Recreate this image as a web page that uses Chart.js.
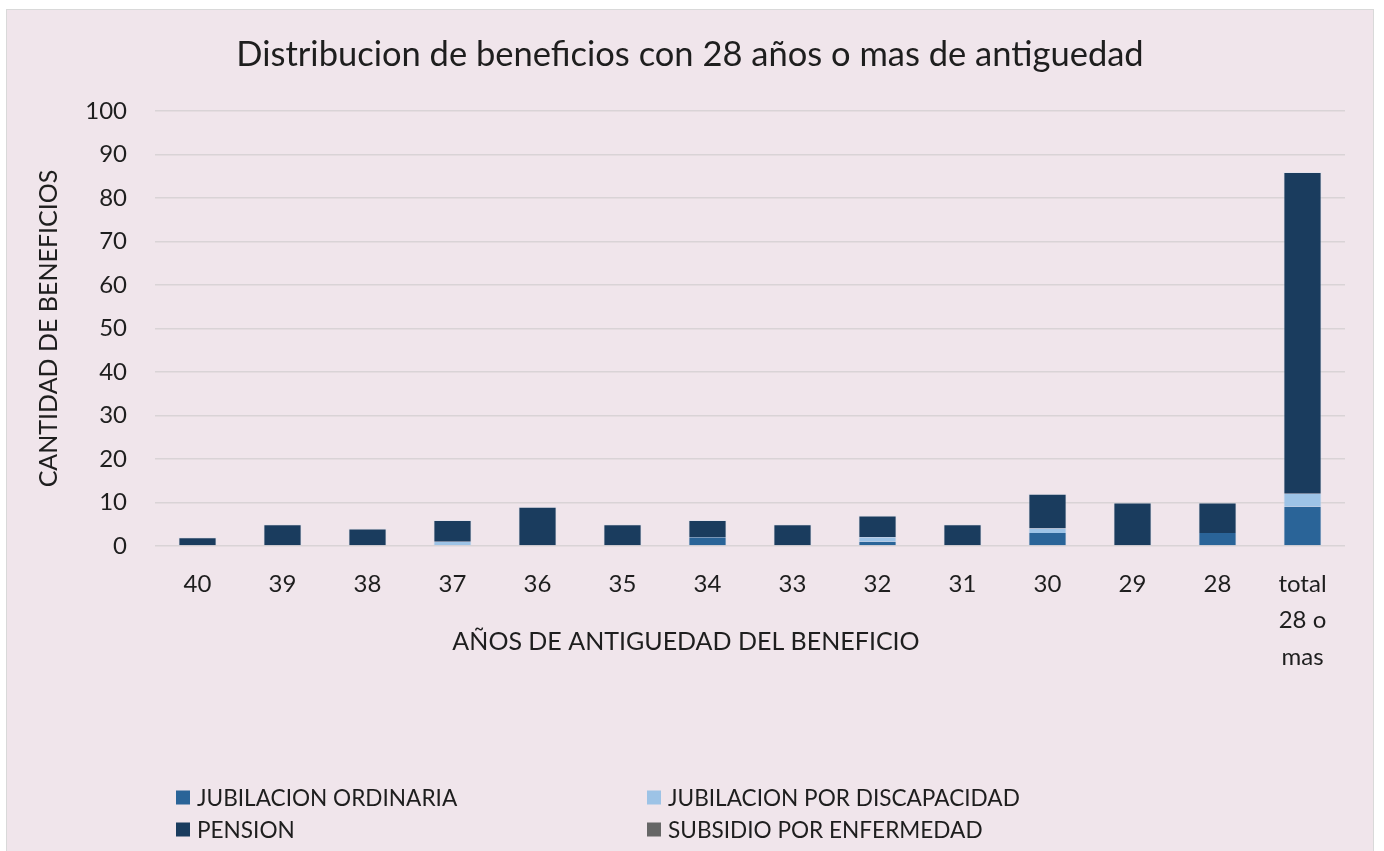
<!DOCTYPE html>
<html><head><meta charset="utf-8">
<script src="https://cdn.jsdelivr.net/npm/chart.js@4.4.1/dist/chart.umd.min.js"></script>
<style>
html,body{margin:0;padding:0;background:#fff;width:1384px;height:851px;overflow:hidden}
#panel{position:absolute;left:6px;top:9px;width:1366px;height:842px;background:#f0e5eb;border:1px solid #d9d9d9;border-bottom:none}
#c{display:block}
</style></head><body>
<div id="panel"><canvas id="c" width="1366" height="842"></canvas></div>
<script>
const chartTitle = 'Distribucion de beneficios con 28 años o mas de antiguedad';
const xTitle = 'AÑOS DE ANTIGUEDAD DEL BENEFICIO';
const yTitle = 'CANTIDAD DE BENEFICIOS';
const categories = ['40','39','38','37','36','35','34','33','32','31','30','29','28',['total','28 o','mas']];
const seriesNames = ['JUBILACION ORDINARIA','JUBILACION POR DISCAPACIDAD','PENSION','SUBSIDIO POR ENFERMEDAD'];
const jubilacionOrdinaria    = [0,0,0,0,0,0,2,0,1,0,3,0,3,9];
const jubilacionDiscapacidad = [0,0,0,1,0,0,0,0,1,0,1,0,0,3];
const pension                = [2,5,4,5,9,5,4,5,5,5,8,10,7,74];
const subsidioEnfermedad     = [0,0,0,0,0,0,0,0,0,0,0,0,0,0];
const yMin = 0, yMax = 100, yStep = 10;
const colors = ['#2a6498','#9dc3e6','#1a3c5e','#666666'];

const FONT = 'Lato, "Open Sans", sans-serif';
const TXT = '#1e1e1e';

const seriesData = [jubilacionOrdinaria, jubilacionDiscapacidad, pension, subsidioEnfermedad];
const datasets = seriesData.map((arr, i) => ({
  label: seriesNames[i],
  data: arr.map(v => v === 0 ? null : v),
  backgroundColor: colors[i],
  borderColor: 'rgba(215,225,238,0.45)',
  borderWidth: i === 2 ? { top: 1, left: 1, right: 1, bottom: 0 } : { top: 0, left: 1, right: 1, bottom: 0 },
  borderSkipped: false,
  categoryPercentage: 1,
  barPercentage: 0.45
}));

const extras = {
  id: 'extras',
  afterDraw(chart) {
    const ctx = chart.ctx, a = chart.chartArea;
    ctx.save();
    ctx.fillStyle = TXT;
    ctx.textAlign = 'center';
    ctx.textBaseline = 'middle';
    // chart title, centred on the canvas
    ctx.font = '34.5px ' + FONT;
    ctx.fillText(chartTitle, chart.width / 2, 45);
    // x axis title
    ctx.font = '25px ' + FONT;
    ctx.fillText(xTitle, a.left + (a.right - a.left) * 0.4462, a.bottom + 95.5);
    // legend in two columns
    ctx.font = '22.6px ' + FONT;
    ctx.textAlign = 'left';
    const colX = [a.left + 21, a.left + 492];
    const rowY = [a.bottom + 251.5, a.bottom + 283.5];
    [0, 1, 2, 3].forEach((di, k) => {
      const ds = chart.data.datasets[di];
      const x = colX[k % 2], y = rowY[Math.floor(k / 2)];
      ctx.fillStyle = ds.backgroundColor;
      ctx.fillRect(x, y - 7, 14, 14);
      ctx.fillStyle = TXT;
      ctx.fillText(ds.label, x + 21, y + 1);
    });
    ctx.restore();
  }
};

new Chart(document.getElementById('c'), {
  type: 'bar',
  data: { labels: categories, datasets },
  plugins: [extras],
  options: {
    responsive: false,
    animation: false,
    devicePixelRatio: 1,
    layout: { padding: { left: 0, right: 28, top: 101, bottom: 0 } },
    plugins: {
      legend: { display: false },
      tooltip: { enabled: false },
      title: { display: false }
    },
    scales: {
      x: {
        stacked: true,
        grid: { display: false, drawTicks: false },
        border: { display: false },
        ticks: { color: TXT, font: { family: FONT, size: 24, lineHeight: 1.52 }, padding: 20, maxRotation: 0, autoSkip: false },
        afterFit(s) { s.height = 306; }
      },
      y: {
        stacked: true,
        min: yMin, max: yMax,
        grid: { color: '#d9d3d6', lineWidth: 1.5, drawTicks: false },
        border: { display: false },
        ticks: { stepSize: yStep, color: TXT, font: { family: FONT, size: 24 }, padding: 28 },
        title: { display: true, text: yTitle, color: TXT, font: { family: FONT, size: 25 }, padding: { top: 27, bottom: 0 } },
        afterFit(s) { s.width = 148; }
      }
    }
  }
});
</script>
</body></html>
